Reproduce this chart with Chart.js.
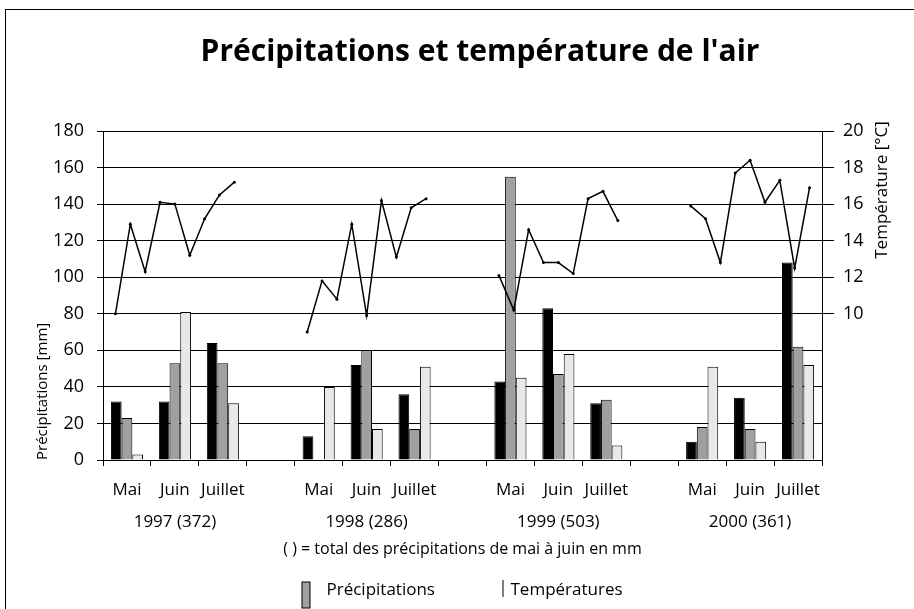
<!DOCTYPE html>
<html lang="fr">
<head>
<meta charset="utf-8">
<title>Précipitations et température de l'air</title>
<script src="https://cdn.jsdelivr.net/npm/chart.js@4.4.1/dist/chart.umd.min.js"></script>
<style>
    html, body { margin: 0; padding: 0; background: #fff; overflow: hidden; }
    /* the chart frame is larger than the window, like the original export */
    #frame { position: absolute; left: 5px; top: 9px; width: 964px; height: 640px; border: 1px solid #000; background: #fff; }
    canvas { display: block; }
</style>
</head>
<body>
<div id="frame"><canvas id="chart" width="964" height="640"></canvas></div>
<script>
// Chart data
const months = ['Mai', 'Juin', 'Juillet'];
const years = ['1997 (372)', '1998 (286)', '1999 (503)', '2000 (361)'];

// precipitation per ten-day period (mm), one value per month, null = gap between years
const decade1 = [32, 32, 64, null, 13, 52, 36, null, 43, 83, 31, null, 10, 34, 108];
const decade2 = [23, 53, 53, null, 0, 60, 17, null, 155, 47, 33, null, 18, 17, 62];
const decade3 = [3, 81, 31, null, 40, 17, 51, null, 45, 58, 8, null, 51, 10, 52];

// air temperature per ten-day period (°C), Mai to Juillet
const temp1997 = [10.0, 14.9, 12.3, 16.1, 16.0, 13.2, 15.2, 16.5, 17.2];
const temp1998 = [9.0, 11.8, 10.8, 14.9, 9.9, 16.2, 13.1, 15.8, 16.3];
const temp1999 = [12.1, 10.2, 14.6, 12.8, 12.8, 12.2, 16.3, 16.7, 15.1];
const temp2000 = [15.9, 15.2, 12.8, 17.7, 18.4, 16.1, 17.3, 12.5, 16.9];

// axis ticks
const precipTicks = [0, 20, 40, 60, 80, 100, 120, 140, 160, 180];
const tempTicks = [10, 12, 14, 16, 18, 20];

const FONT = "'Open Sans', 'Noto Sans', sans-serif";
Chart.defaults.font.family = FONT;
Chart.defaults.color = '#000';

// category labels: month on first line, year under Juin
const xLabels = [];
years.forEach((year, i) => {
    if (i > 0) xLabels.push(['', '']);
    months.forEach((m, j) => xLabels.push([m, j === 1 ? year : '']));
});
const slotTicks = xLabels.map((_, i) => i);

// bars are placed on the month slots of a linear axis
const toPoints = arr => arr.map((v, i) => ({ x: i, y: v }));

// temperature decades spread around the Juin slot of each year
const decadeStep = 0.31;
const tempPoints = [];
[temp1997, temp1998, temp1999, temp2000].forEach((temps, y) => {
    if (y > 0) tempPoints.push({ x: 4 * y - 1, y: null });
    temps.forEach((t, d) => tempPoints.push({ x: 4 * y + 1 + (d - 4) * decadeStep, y: t }));
});

// right axis title and legend, drawn on the canvas
const extras = {
    id: 'extras',
    afterDraw(chart) {
        const { ctx, chartArea, scales } = chart;
        ctx.save();
        ctx.fillStyle = '#000';
        ctx.font = `17px ${FONT}`;
        ctx.textBaseline = 'middle';

        ctx.save();
        ctx.translate(scales.y2.left + 60, chartArea.top + 59);
        ctx.rotate(-Math.PI / 2);
        ctx.textAlign = 'center';
        ctx.fillText('Température [°C]', 0, 0);
        ctx.restore();

        const cx = (chartArea.left + chartArea.right) / 2;
        const ly = chart.height - 60;
        ctx.textAlign = 'left';
        ctx.fillStyle = '#a0a0a0';
        ctx.fillRect(cx - 160.5, ly - 8, 8, 26);
        ctx.strokeStyle = '#000';
        ctx.lineWidth = 1;
        ctx.strokeRect(cx - 160.5, ly - 8, 8, 26);
        ctx.fillStyle = '#000';
        ctx.fillText('Précipitations', cx - 136, ly);

        ctx.beginPath();
        ctx.moveTo(cx + 40.5, ly - 10);
        ctx.lineTo(cx + 40.5, ly + 7);
        ctx.stroke();
        ctx.fillText('Températures', cx + 48, ly);
        ctx.restore();
    }
};

const barDefaults = { type: 'bar', borderColor: '#000', borderWidth: 1, xAxisID: 'x', yAxisID: 'y', order: 1 };

new Chart(document.getElementById('chart'), {
    type: 'bar',
    data: {
        datasets: [
            { ...barDefaults, label: '1re décade', data: toPoints(decade1), backgroundColor: '#000' },
            { ...barDefaults, label: '2e décade', data: toPoints(decade2), backgroundColor: '#a0a0a0' },
            { ...barDefaults, label: '3e décade', data: toPoints(decade3), backgroundColor: '#e8e8e8' },
            {
                type: 'line',
                label: 'Températures',
                data: tempPoints,
                xAxisID: 'x',
                yAxisID: 'y2',
                borderColor: '#000',
                borderWidth: 1.5,
                pointRadius: 1.5,
                pointBackgroundColor: '#000',
                pointBorderWidth: 0,
                tension: 0,
                spanGaps: false,
                order: 0
            }
        ]
    },
    options: {
        responsive: false,
        animation: false,
        indexAxis: 'x',
        layout: { padding: { left: 20, right: 36, top: 0, bottom: 90 } },
        datasets: { bar: { categoryPercentage: 0.67, barPercentage: 1 } },
        plugins: {
            legend: { display: false },
            tooltip: { enabled: false },
            title: {
                display: true,
                text: "Précipitations et température de l'air",
                color: '#000',
                font: { size: 30, weight: 'bold' },
                padding: { top: 24, bottom: 61 }
            }
        },
        scales: {
            x: {
                type: 'linear',
                min: -0.5,
                max: slotTicks.length - 0.5,
                offset: false,
                afterBuildTicks: s => { s.ticks = slotTicks.map(v => ({ value: v })); },
                grid: { drawOnChartArea: false, offset: true, color: '#000', tickLength: 6 },
                border: { color: '#000' },
                ticks: {
                    color: '#000',
                    font: { size: 17, lineHeight: 1.9 },
                    padding: 8,
                    autoSkip: false,
                    maxRotation: 0,
                    callback: v => xLabels[v]
                },
                title: {
                    display: true,
                    text: '( ) = total des précipitations de mai à juin en mm',
                    color: '#000',
                    font: { size: 16 },
                    padding: { top: 0, bottom: 1 }
                },
                afterFit: s => { s.height = 100; }
            },
            y: {
                position: 'left',
                min: 0,
                max: 180,
                afterBuildTicks: s => { s.ticks = precipTicks.map(v => ({ value: v })); },
                grid: { color: '#000', tickLength: 6 },
                border: { color: '#000' },
                ticks: { color: '#000', font: { size: 18 }, padding: 13 },
                title: {
                    display: true,
                    text: 'Précipitations [mm]',
                    align: 'start',
                    color: '#000',
                    font: { size: 15 },
                    padding: { top: 8, bottom: 0 }
                },
                afterFit: s => { s.width = 77; }
            },
            y2: {
                position: 'right',
                min: 2,
                max: 20,
                afterBuildTicks: s => { s.ticks = tempTicks.map(v => ({ value: v })); },
                grid: { drawOnChartArea: false, color: '#000', tickLength: 12 },
                border: { color: '#000' },
                ticks: { color: '#000', font: { size: 18 }, padding: 9 },
                afterFit: s => { s.width = 112; }
            }
        }
    },
    plugins: [extras]
});
</script>
</body>
</html>
